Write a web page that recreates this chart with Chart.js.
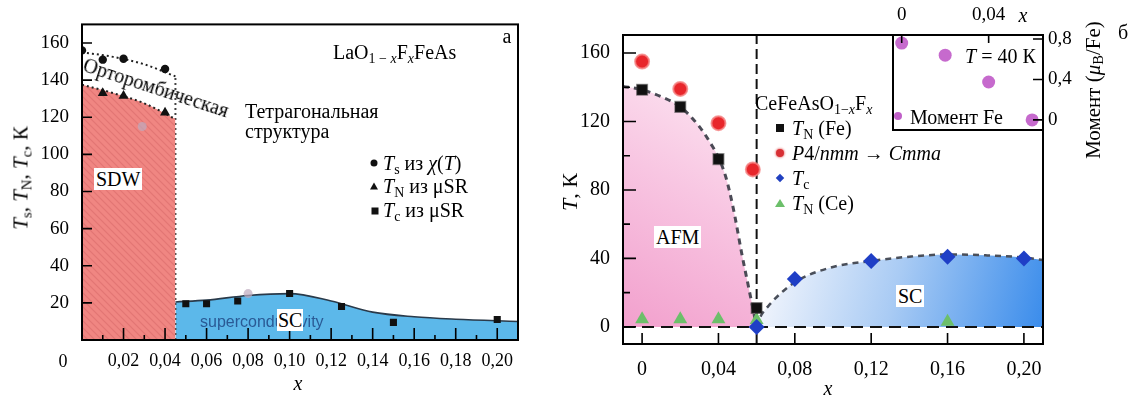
<!DOCTYPE html>
<html>
<head>
<meta charset="utf-8">
<script src="https://cdn.jsdelivr.net/npm/chart.js@4"></script>
<style>
body { margin: 0; background: #fff; width: 1133px; height: 398px; position: relative; overflow: hidden;
       font-family: "Liberation Serif", "Times New Roman", "DejaVu Serif", serif; }
canvas { position: absolute; }
.t { position: absolute; white-space: nowrap; font-size: 20px; line-height: 1; color: #000; }
.c { transform: translate(-50%, -50%); }
.l { transform: translateY(-50%); }
.rot { transform: translate(-50%, -50%) rotate(-90deg); }
sub { font-size: 70%; vertical-align: -0.25em; line-height: 0; }
.box { background: #fff; padding: 1px 2px; }
.mk { position: absolute; transform: translate(-50%, -50%); }
</style>
</head>
<body>
<canvas id="left" width="540" height="398" style="left:0;top:0"></canvas>
<canvas id="right" width="573" height="398" style="left:560px;top:0"></canvas>
<canvas id="inset" width="250" height="150" style="left:840px;top:0"></canvas>

<!-- левая панель -->
<div class="t rot" style="left:21px;top:178px;font-size:21px"><i>T</i><sub>s</sub>, <i>T</i><sub>N</sub>, <i>T</i><sub>c</sub>, К</div>
<div class="t c" style="left:63px;top:361px;font-size:18px">0</div>
<div class="t c" style="left:298px;top:383px"><i>x</i></div>
<div class="t l" style="left:333px;top:52px">LaO<sub>1 − <i>x</i></sub>F<sub><i>x</i></sub>FeAs</div>
<div class="t c" style="left:507px;top:36px">а</div>
<div class="t l" style="left:245px;top:111px">Тетрагональная</div>
<div class="t l" style="left:245px;top:131px">структура</div>
<div class="t" style="left:84px;top:54px;transform-origin:0 50%;transform:rotate(18deg)">Орторомбическая</div>
<div class="t l box" style="left:94px;top:179px">SDW</div>
<div class="t l" style="left:200px;top:322px;font-family:'Liberation Sans',Arial,sans-serif;font-size:16px;color:#2a5a95">superconductivity</div>
<div class="t l box" style="left:277px;top:320px;padding:1px 1px">SC</div>
<div class="mk" style="left:374px;top:163px;width:7px;height:7px;border-radius:50%;background:#111"></div>
<div class="t l" style="left:383px;top:163px"><i>T</i><sub>s</sub> из <i>χ</i>(<i>T</i>)</div>
<div class="mk" style="left:374px;top:186px;width:0;height:0;border-left:4px solid transparent;border-right:4px solid transparent;border-bottom:7px solid #111"></div>
<div class="t l" style="left:383px;top:186px"><i>T</i><sub>N</sub> из μSR</div>
<div class="mk" style="left:375px;top:211px;width:7px;height:7px;background:#111"></div>
<div class="t l" style="left:383px;top:210px"><i>T</i><sub>c</sub> из μSR</div>

<!-- правая панель -->
<div class="t rot" style="left:570px;top:192px;font-size:22px"><i>T</i>, К</div>
<div class="t c" style="left:828px;top:388px"><i>x</i></div>
<div class="t l" style="left:755px;top:103px">CeFeAsO<sub>1−<i>x</i></sub>F<sub><i>x</i></sub></div>
<div class="mk" style="left:780px;top:128px;width:8px;height:8px;background:#111"></div>
<div class="t l" style="left:792px;top:128px"><i>T</i><sub>N</sub> (Fe)</div>
<div class="mk" style="left:780px;top:153px;width:8px;height:8px;border-radius:50%;background:#d83035;box-shadow:0 0 2px 1px #f0a0a0"></div>
<div class="t l" style="left:792px;top:153px"><i>P</i>4/<i>nmm</i> → <i>Cmma</i></div>
<div class="mk" style="left:780px;top:178px;width:6px;height:6px;background:#2040c0;transform:translate(-50%,-50%) rotate(45deg)"></div>
<div class="t l" style="left:792px;top:178px"><i>T</i><sub>c</sub></div>
<div class="mk" style="left:780px;top:203px;width:0;height:0;border-left:5px solid transparent;border-right:5px solid transparent;border-bottom:8px solid #6cbf6a"></div>
<div class="t l" style="left:792px;top:203px"><i>T</i><sub>N</sub> (Ce)</div>
<div class="t l box" style="left:654px;top:237px">AFM</div>
<div class="t l box" style="left:896px;top:296px">SC</div>
<div class="t l" style="left:965px;top:56px"><i>T</i> = 40 К</div>
<div class="mk" style="left:898px;top:116px;width:8px;height:8px;border-radius:50%;background:#c060c8"></div>
<div class="t l" style="left:910px;top:117px">Момент Fe</div>
<div class="t c" style="left:1023px;top:15px"><i>x</i></div>
<div class="t rot" style="left:1093px;top:90px;font-size:21px">Момент (<i>μ</i><sub>B</sub>/Fe)</div>
<div class="t c" style="left:1123px;top:32px">б</div>

<script>
// ---- а: LaO1-xFxFeAs ----
const tsX = [0, 0.01, 0.02, 0.04];
const tsVal = [156, 151, 151.5, 146];
const tnX = [0.01, 0.02, 0.04];
const tnVal = [133, 131.5, 122.5];
const tcX = [0.05, 0.06, 0.075, 0.10, 0.125, 0.15, 0.20];
const tcVal = [19.5, 19.5, 21, 25, 18, 9.5, 11];
const greyX = [0.029, 0.08];
const greyVal = [115, 25];
// границы фаз
const tsLineX = [0, 0.015, 0.03, 0.045];
const tsLineVal = [155, 152.5, 148.5, 142];
const tnLineX = [0, 0.015, 0.03, 0.045];
const tnLineVal = [137.5, 133, 127.5, 119];
const scLineX = [0.045, 0.06, 0.08, 0.10, 0.12, 0.14, 0.16, 0.18, 0.21];
const scLineVal = [20.5, 21.5, 24, 25, 21, 15, 12.5, 11.2, 10];
const xEdge = 0.045;
const leftXTicks = [0, 0.02, 0.04, 0.06, 0.08, 0.10, 0.12, 0.14, 0.16, 0.18, 0.20];
const leftYTicks = [0, 20, 40, 60, 80, 100, 120, 140, 160];

// ---- б: CeFeAsO1-xFx ----
const feX = [0, 0.02, 0.04, 0.06];
const feVal = [138.5, 128.5, 98, 11];
const cmmaX = [0, 0.02, 0.04, 0.058];
const cmmaVal = [155, 139, 119, 92];
const tcRX = [0.06, 0.08, 0.12, 0.16, 0.20];
const tcRVal = [0, 28, 38.5, 41, 40];
const ceX = [0, 0.02, 0.04, 0.06, 0.16];
const ceVal = [4.5, 4.5, 4.5, 4, 3];
const afmX = [-0.01, 0, 0.01, 0.02, 0.03, 0.036, 0.04, 0.044, 0.048, 0.052, 0.056, 0.06];
const afmVal = [140.5, 138.5, 134.5, 128.5, 117, 107, 99, 87, 68, 44, 22, 0];
const scRX = [0.06, 0.062, 0.066, 0.074, 0.083, 0.10, 0.12, 0.14, 0.16, 0.18, 0.20, 0.21];
const scRVal = [0, 6, 12, 21, 28, 35, 38.5, 41, 42.3, 41.8, 40.5, 39];
const xCrit = 0.06;
const rightXTicks = [0, 0.04, 0.08, 0.12, 0.16, 0.20];
const rightYTicks = [0, 40, 80, 120, 160];

// ---- вставка: момент Fe при 40 К ----
const momX = [0, 0.02, 0.04, 0.06];
const momVal = [0.76, 0.64, 0.375, 0];
const insetXTicks = [0, 0.04];
const insetYTicks = [0, 0.4, 0.8];

const pts = (xs, ys) => xs.map((x, i) => ({ x: x, y: ys[i] }));
const comma = (v, d) => v === 0 ? '0' : v.toFixed(d).replace('.', ',');
const serif = "'Liberation Serif', 'Times New Roman', serif";
Chart.defaults.font.family = serif;

// рамка и внутренние засечки
const frameTicks = {
  id: 'frameTicks',
  beforeDraw(chart, args, o) {
    if (!o.fillWhite) return;
    const a = chart.chartArea, ctx = chart.ctx;
    ctx.save(); ctx.fillStyle = '#fff';
    ctx.fillRect(a.left, a.top, a.right - a.left, a.bottom - a.top);
    ctx.restore();
  },
  afterDraw(chart, args, o) {
    const { ctx, chartArea: a } = chart;
    ctx.save();
    ctx.strokeStyle = '#000';
    ctx.lineWidth = o.width || 2;
    ctx.strokeRect(a.left, a.top, a.right - a.left, a.bottom - a.top);
    ctx.lineWidth = 1.6;
    ['x', 'y'].forEach(id => {
      const s = chart.scales[id], c = o[id];
      if (!c) return;
      const vals = s.ticks.map(t => t.value);
      const marks = vals.map(v => [v, c.major]);
      if (c.minor) {
        const step = vals[1] - vals[0];
        for (let v = vals[0] - step / 2; v < s.max; v += step) {
          if (v > s.min) marks.push([v, c.minor]);
        }
      }
      ctx.beginPath();
      marks.forEach(([v, len]) => {
        const p = s.getPixelForValue(v);
        if (c.edge === 'bottom') { ctx.moveTo(p, a.bottom); ctx.lineTo(p, a.bottom - len); }
        if (c.edge === 'top') { ctx.moveTo(p, a.top); ctx.lineTo(p, a.top + len); }
        if (c.edge === 'left') { ctx.moveTo(a.left, p); ctx.lineTo(a.left + len, p); }
        if (c.edge === 'right') { ctx.moveTo(a.right, p); ctx.lineTo(a.right - len, p); }
      });
      ctx.stroke();
    });
    ctx.restore();
  }
};
Chart.register(frameTicks);

function hatch() {
  const c = document.createElement('canvas');
  c.width = c.height = 7;
  const g = c.getContext('2d');
  g.fillStyle = 'rgb(240,134,130)';
  g.fillRect(0, 0, 7, 7);
  g.strokeStyle = 'rgba(205,95,95,0.4)';
  g.lineWidth = 1.2;
  g.beginPath();
  g.moveTo(0, 0); g.lineTo(7, 7);
  g.moveTo(-1, 6); g.lineTo(1, 8);
  g.moveTo(6, -1); g.lineTo(8, 1);
  g.stroke();
  return g.createPattern(c, 'repeat');
}

const marker = (xs, ys, style, r, color, extra) => Object.assign({
  data: pts(xs, ys), pointStyle: style, pointRadius: r,
  pointBackgroundColor: color, pointBorderColor: color, pointBorderWidth: 0, showLine: false
}, extra || {});

const curve = (xs, ys, extra) => Object.assign({
  data: pts(xs, ys), showLine: true, pointRadius: 0, borderColor: '#222', borderWidth: 2,
  cubicInterpolationMode: 'monotone', fill: false
}, extra || {});

function axis(pos, min, max, ticksArr, fmt, size, pad, fitSize) {
  return {
    type: 'linear', position: pos, min: min, max: max,
    grid: { display: false, drawTicks: false }, border: { display: false },
    afterBuildTicks: s => { s.ticks = ticksArr.map(v => ({ value: v })); },
    afterFit: s => { if (pos === 'left' || pos === 'right') s.width = fitSize; else s.height = fitSize; },
    ticks: { callback: fmt, color: '#000', padding: pad, maxRotation: 0, autoSkip: false,
             font: { family: serif, size: size } }
  };
}

const base = (padding, frame) => ({
  responsive: false, animation: false, devicePixelRatio: 1,
  layout: { padding: padding },
  plugins: { legend: { display: false }, tooltip: { enabled: false }, frameTicks: frame }
});

// левая диаграмма
const leftOpts = base({ left: 0, top: 16, right: 22, bottom: 0 },
  { width: 2, x: { edge: 'bottom', major: 12, minor: 5 }, y: { edge: 'left', major: 10 } });
leftOpts.scales = {
  x: axis('bottom', 0, 0.21, leftXTicks, v => v === 0 ? '' : comma(v, 2), 18, 10, 58),
  y: axis('left', 0, 170, leftYTicks, v => v === 0 ? '' : String(v), 19, 13, 82)
};
new Chart(document.getElementById('left'), {
  type: 'scatter',
  data: { datasets: [
    marker(tsX, tsVal, 'circle', 4.2, '#111'),
    marker(tnX, tnVal, 'triangle', 5.8, '#111'),
    marker(tcX, tcVal, 'rect', 5, '#111'),
    marker(greyX, greyVal, 'circle', 4.5, 'rgba(190,170,190,0.7)'),
    curve(tsLineX, tsLineVal, { borderDash: [2, 3], borderWidth: 2 }),
    curve(tnLineX, tnLineVal, { borderDash: [2, 3], borderWidth: 2, fill: 'origin', backgroundColor: hatch() }),
    curve([xEdge, xEdge], [0, tsLineVal[tsLineVal.length - 1]], { borderDash: [2, 3], borderWidth: 2, cubicInterpolationMode: 'default', tension: 0, borderColor: '#444' }),
    curve(scLineX, scLineVal, { borderWidth: 1.6, borderColor: '#2a3a4a', fill: 'origin', backgroundColor: 'rgb(92,184,234)' })
  ] },
  options: leftOpts
});

// правая диаграмма
function pinkFill(c) {
  const ch = c.chart, a = ch.chartArea;
  if (!a) return 'transparent';
  const g = ch.ctx.createLinearGradient(a.left, ch.scales.y.getPixelForValue(0),
    ch.scales.x.getPixelForValue(xCrit), ch.scales.y.getPixelForValue(140));
  g.addColorStop(0, '#f2a0cd');
  g.addColorStop(0.55, '#f8c6e2');
  g.addColorStop(1, '#fde8f3');
  return g;
}
function blueFill(c) {
  const ch = c.chart, a = ch.chartArea;
  if (!a) return 'transparent';
  const g = ch.ctx.createLinearGradient(ch.scales.x.getPixelForValue(0.07), ch.scales.y.getPixelForValue(40),
    a.right, ch.scales.y.getPixelForValue(0));
  g.addColorStop(0, '#eef3fc');
  g.addColorStop(0.45, '#a9cbf4');
  g.addColorStop(1, '#3a8ceb');
  return g;
}
const rightOpts = base({ left: 0, top: 35, right: 90, bottom: 0 },
  { width: 2, x: { edge: 'bottom', major: 11 }, y: { edge: 'left', major: 13, minor: 7 } });
rightOpts.scales = {
  x: axis('bottom', -0.01, 0.21, rightXTicks, v => comma(v, 2), 20, 14, 54),
  y: axis('left', -10, 170.5, rightYTicks, v => String(v), 20, 13, 63)
};
new Chart(document.getElementById('right'), {
  type: 'scatter',
  data: { datasets: [
    marker(feX, feVal, 'rect', 7.5, '#111', { pointBorderColor: 'rgba(60,60,60,0.5)', pointBorderWidth: 1.5 }),
    marker(cmmaX, cmmaVal, 'circle', 7, '#e8262b', { pointBorderColor: 'rgba(245,130,130,0.8)', pointBorderWidth: 2 }),
    marker(tcRX, tcRVal, 'rectRot', 8, '#1f3fc6'),
    marker(ceX, ceVal, 'triangle', 8, '#6cbf6a'),
    curve([-0.01, 0.21], [0, 0], { borderColor: '#111', borderDash: [12, 7], cubicInterpolationMode: 'default', tension: 0 }),
    curve([xCrit, xCrit], [-10, 170.5], { borderColor: '#111', borderDash: [10, 5], cubicInterpolationMode: 'default', tension: 0 }),
    curve(afmX, afmVal, { borderColor: '#4a4a55', borderWidth: 3, borderDash: [6, 5], fill: 'origin', backgroundColor: pinkFill }),
    curve(scRX, scRVal, { borderColor: '#4a4f5a', borderWidth: 2.5, borderDash: [6, 5], fill: 'origin', backgroundColor: blueFill })
  ] },
  options: rightOpts
});

// вставка
const insetOpts = base({ left: 53, top: 0, right: 0, bottom: 20 },
  { width: 2, fillWhite: true, x: { edge: 'top', major: 8 }, y: { edge: 'right', major: 10 } });
insetOpts.scales = {
  x: axis('top', -0.004, 0.065, insetXTicks, v => comma(v, 2), 19, 9, 35),
  y: axis('right', -0.1, 0.84, insetYTicks, v => comma(v, 1), 19, 5, 47)
};
new Chart(document.getElementById('inset'), {
  type: 'scatter',
  data: { datasets: [ marker(momX, momVal, 'circle', 6.5, 'rgba(192,90,200,0.9)') ] },
  options: insetOpts
});
</script>
</body>
</html>
